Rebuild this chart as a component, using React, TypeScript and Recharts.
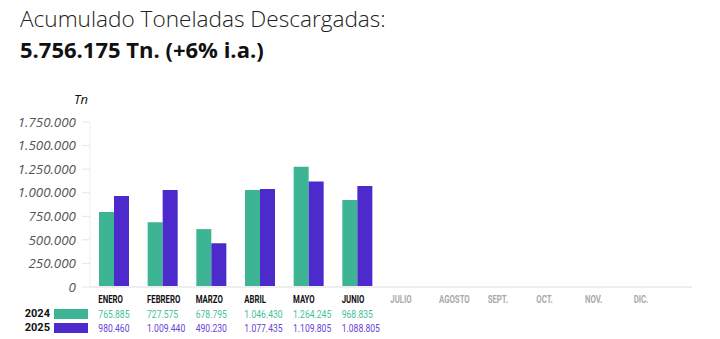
import React from "react";
import { BarChart, Bar, XAxis, YAxis } from "recharts";

const months = [
  "ENERO",
  "FEBRERO",
  "MARZO",
  "ABRIL",
  "MAYO",
  "JUNIO",
  "JULIO",
  "AGOSTO",
  "SEPT.",
  "OCT.",
  "NOV.",
  "DIC.",
];

// bar heights as drawn in the picture
const bars2024 = [795000, 688000, 614000, 1030000, 1275000, 923000, null, null, null, null, null, null];
const bars2025 = [966000, 1030000, 464000, 1040000, 1118000, 1072000, null, null, null, null, null, null];

// table labels under the axis
const labels2024 = ["765.885", "727.575", "678.795", "1.046.430", "1.264.245", "968.835", "", "", "", "", "", ""];
const labels2025 = ["980.460", "1.009.440", "490.230", "1.077.435", "1.109.805", "1.088.805", "", "", "", "", "", ""];

const yTicks = [0, 250000, 500000, 750000, 1000000, 1250000, 1500000, 1750000];

const GREEN = "#3db594";
const PURPLE = "#4c2acb";
const GREEN_TXT = "#45bf9a";
const PURPLE_TXT = "#6a44d6";

const tableFont = "'Roboto', sans-serif";

const data = months.map((m, i) => ({
  month: m,
  y2024: bars2024[i],
  y2025: bars2025[i],
  l2024: labels2024[i],
  l2025: labels2025[i],
}));

const fmtDots = (v: number) => (v === 0 ? "0" : v.toLocaleString("de-DE"));

// condensed look: squeeze text horizontally
function Squeezed({ x, y, children, ...rest }: any) {
  return (
    <g transform={`translate(${x},${y}) scale(0.78,1)`}>
      <text x={0} y={0} fontFamily={tableFont} {...rest}>
        {children}
      </text>
    </g>
  );
}

function MonthTick(props: any) {
  const { x, y, index } = props;
  const row = data[index];
  const active = row.l2024 !== "";
  const left = x - 16;
  return (
    <g>
      <Squeezed x={left} y={y + 16} fontWeight={700} fontSize={10} fill={active ? "#111" : "#aaa"}>
        {row.month}
      </Squeezed>
      <Squeezed x={left} y={y + 31} fontSize={11} fill={GREEN_TXT}>
        {row.l2024}
      </Squeezed>
      <Squeezed x={left} y={y + 45} fontSize={11} fill={PURPLE_TXT}>
        {row.l2025}
      </Squeezed>
    </g>
  );
}

export default function App() {
  return (
    <div
      style={{
        position: "absolute",
        left: 0,
        top: 0,
        width: 720,
        height: 339,
        background: "#fff",
        fontFamily: "'Open Sans', sans-serif",
        overflow: "hidden",
      }}
    >
      <div
        style={{
          position: "absolute",
          left: 20,
          top: 3,
          fontSize: 22.6,
          fontWeight: 300,
          color: "#222",
          whiteSpace: "nowrap",
        }}
      >
        Acumulado Toneladas Descargadas:
      </div>
      <div
        style={{
          position: "absolute",
          left: 20,
          top: 34,
          fontSize: 22,
          fontWeight: 700,
          color: "#111",
          whiteSpace: "nowrap",
        }}
      >
        5.756.175 Tn. (+6% i.a.)
      </div>
      <div
        style={{
          position: "absolute",
          left: 50,
          width: 38,
          top: 90,
          textAlign: "right",
          fontSize: 13,
          fontStyle: "italic",
          color: "#111",
        }}
      >
        Tn
      </div>

      <div style={{ position: "absolute", left: 0, top: 0 }}>
        <BarChart
          width={720}
          height={339}
          data={data}
          margin={{ top: 122, right: 28, bottom: 0, left: 0 }}
          barGap={0}
        >
          <YAxis
            width={90}
            domain={[0, 1750000]}
            ticks={yTicks}
            interval={0}
            tickFormatter={fmtDots}
            tickSize={8}
            tickMargin={6}
            axisLine={{ stroke: "#eeeeee" }}
            tickLine={{ stroke: "#e6e6e6" }}
            tick={{ fontSize: 13.4, fontStyle: "italic", fill: "#555", fontFamily: "'Open Sans', sans-serif" }}
          />
          <XAxis
            dataKey="month"
            height={52}
            interval={0}
            tickSize={0}
            tickMargin={0}
            padding={{ left: 0, right: 18 }}
            axisLine={{ stroke: "#eeeeee", strokeWidth: 2 }}
            tickLine={false}
            tick={<MonthTick />}
          />
          <Bar dataKey="y2024" fill={GREEN} barSize={15} isAnimationActive={false} />
          <Bar dataKey="y2025" fill={PURPLE} barSize={15} isAnimationActive={false} />
        </BarChart>
      </div>

      <div style={{ position: "absolute", left: 20, top: 307, width: 30, textAlign: "right", fontFamily: tableFont, fontWeight: 700, fontSize: 11, color: "#111" }}>
        2024
      </div>
      <div style={{ position: "absolute", left: 54, top: 309, width: 34, height: 10, background: GREEN }} />
      <div style={{ position: "absolute", left: 20, top: 321, width: 30, textAlign: "right", fontFamily: tableFont, fontWeight: 700, fontSize: 11, color: "#111" }}>
        2025
      </div>
      <div style={{ position: "absolute", left: 54, top: 323, width: 34, height: 10, background: PURPLE }} />
    </div>
  );
}
